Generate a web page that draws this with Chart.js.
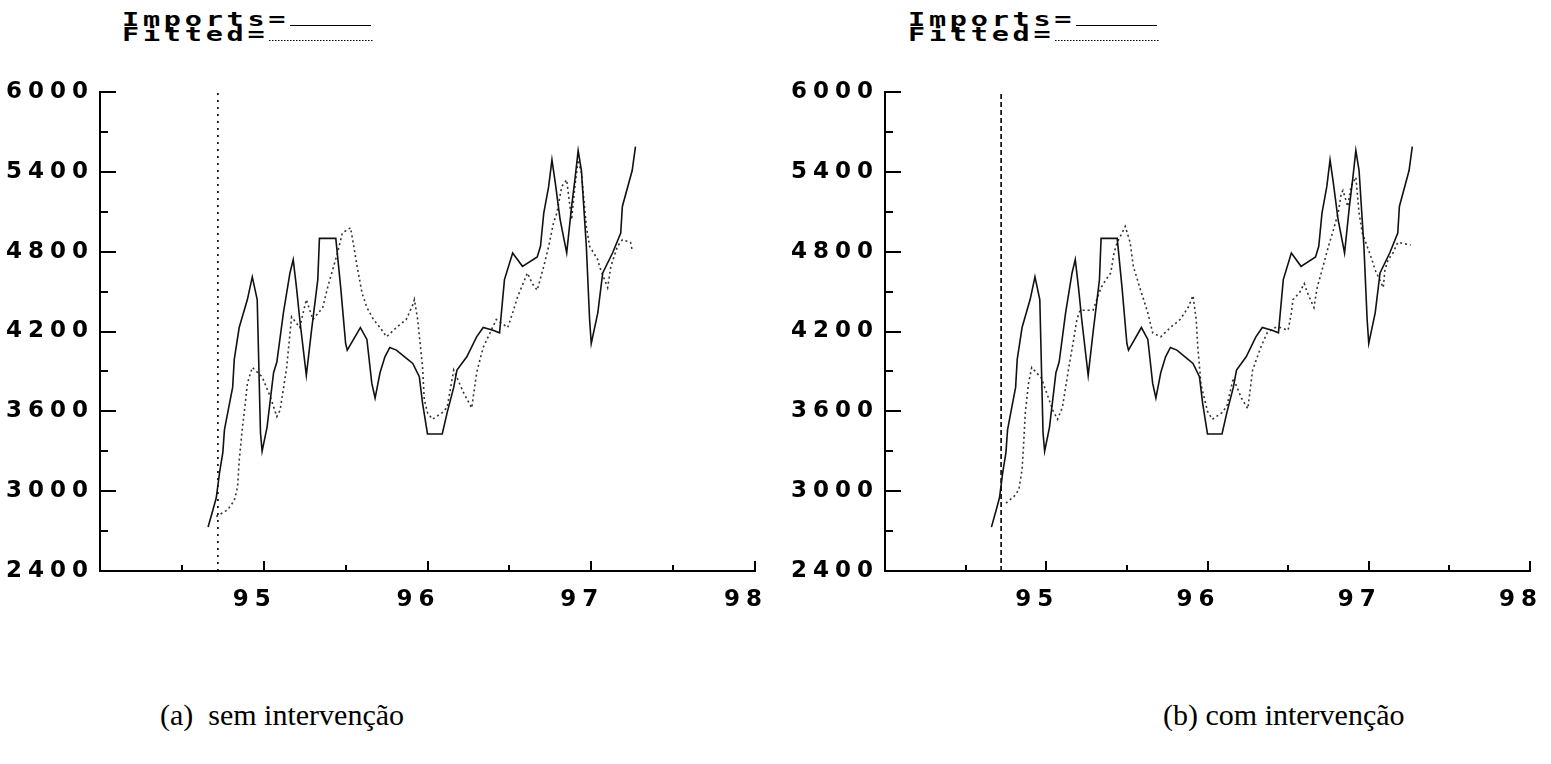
<!DOCTYPE html>
<html>
<head>
<meta charset="utf-8">
<script src="https://cdn.jsdelivr.net/npm/chart.js@4/dist/chart.umd.min.js"></script>
<style>
  body { margin: 0; background: #fff; width: 1551px; height: 764px; position: relative; overflow: hidden; }
  canvas { position: absolute; top: 60px; }
  .legend { position: absolute; top: 12px; font-family: "DejaVu Sans Mono", monospace; font-weight: bold; font-size: 19px; line-height: 15px; letter-spacing: 2.5px; color: #000; white-space: pre; transform: scaleX(1.5); transform-origin: left top; }
  .legend .s { display: inline-block; vertical-align: baseline; height: 0; letter-spacing: 0; }
  .caption { position: absolute; top: 700px; font-family: "Liberation Serif", "Times New Roman", serif; font-size: 30px; line-height: 30px; white-space: pre; color: #000; }
</style>
</head>
<body>
<div class="legend" style="left:122px">Imports=<span class="s" style="width:54px;border-bottom:1px solid #000"></span>
Fitted=<span class="s" style="width:69px;border-bottom:1px dotted #000"></span></div>
<div class="legend" style="left:908px">Imports=<span class="s" style="width:54px;border-bottom:1px solid #000"></span>
Fitted=<span class="s" style="width:69px;border-bottom:1px dotted #000"></span></div>
<canvas id="chartA" width="775" height="560" style="left:0px"></canvas>
<canvas id="chartB" width="765" height="560" style="left:785px"></canvas>
<div class="caption" style="left:160px">(a)  sem intervenção</div>
<div class="caption" style="left:1163px">(b) com intervenção</div>
<script>
// x in decimal years, y in imports value
const importsYear = [94.66, 94.69, 94.71, 94.73, 94.75, 94.76, 94.78, 94.81, 94.82, 94.85, 94.90, 94.93, 94.96, 94.98, 94.99, 95.02, 95.06, 95.08, 95.12, 95.16, 95.18, 95.20, 95.22, 95.26, 95.29, 95.33, 95.34, 95.44, 95.47, 95.50, 95.51, 95.59, 95.63, 95.66, 95.68, 95.71, 95.74, 95.77, 95.81, 95.87, 95.91, 95.95, 95.97, 96.00, 96.09, 96.12, 96.16, 96.18, 96.24, 96.30, 96.34, 96.40, 96.44, 96.47, 96.52, 96.58, 96.67, 96.69, 96.71, 96.74, 96.76, 96.78, 96.81, 96.85, 96.88, 96.90, 96.92, 96.94, 96.97, 96.99, 97.00, 97.04, 97.07, 97.13, 97.18, 97.19, 97.25, 97.27];
const importsValue = [2730, 2860, 2950, 3140, 3290, 3460, 3590, 3780, 3990, 4230, 4440, 4610, 4440, 3440, 3300, 3480, 3890, 3970, 4340, 4640, 4740, 4530, 4290, 3870, 4190, 4590, 4900, 4900, 4530, 4110, 4060, 4230, 4140, 3810, 3700, 3890, 4010, 4080, 4060, 4000, 3960, 3860, 3660, 3430, 3430, 3590, 3780, 3910, 4010, 4160, 4230, 4210, 4190, 4590, 4790, 4690, 4760, 4840, 5090, 5290, 5490, 5320, 5040, 4790, 5140, 5340, 5560, 5410, 4840, 4290, 4110, 4340, 4640, 4790, 4940, 5140, 5410, 5590];

// (a) fitted without intervention
const fittedYearA = [94.71, 94.78, 94.82, 94.84, 94.85, 94.87, 94.89, 94.90, 94.93, 94.99, 95.04, 95.08, 95.10, 95.14, 95.17, 95.22, 95.26, 95.30, 95.36, 95.39, 95.42, 95.45, 95.48, 95.53, 95.55, 95.57, 95.60, 95.63, 95.67, 95.71, 95.75, 95.81, 95.87, 95.91, 95.92, 95.94, 95.97, 95.98, 96.00, 96.03, 96.09, 96.12, 96.16, 96.22, 96.27, 96.30, 96.34, 96.42, 96.49, 96.52, 96.55, 96.61, 96.64, 96.67, 96.71, 96.74, 96.77, 96.79, 96.82, 96.85, 96.88, 96.90, 96.92, 96.94, 96.97, 96.99, 97.04, 97.05, 97.10, 97.12, 97.16, 97.19, 97.24, 97.25];
const fittedValueA = [2810, 2860, 2930, 3030, 3230, 3480, 3690, 3810, 3930, 3860, 3710, 3560, 3610, 3930, 4310, 4230, 4440, 4290, 4380, 4530, 4660, 4790, 4940, 4980, 4840, 4690, 4490, 4380, 4290, 4230, 4160, 4230, 4290, 4400, 4440, 4290, 3930, 3690, 3590, 3540, 3590, 3630, 3910, 3740, 3625, 3890, 4080, 4290, 4230, 4340, 4460, 4640, 4560, 4510, 4690, 4840, 5020, 5090, 5290, 5340, 5040, 5290, 5490, 5390, 4990, 4840, 4740, 4690, 4530, 4690, 4840, 4890, 4870, 4810];

// (b) fitted with intervention
const fittedYearB = [94.75, 94.80, 94.83, 94.85, 94.86, 94.87, 94.89, 94.91, 94.97, 95.04, 95.07, 95.10, 95.14, 95.17, 95.19, 95.21, 95.29, 95.34, 95.37, 95.40, 95.42, 95.44, 95.47, 95.49, 95.52, 95.54, 95.58, 95.63, 95.66, 95.71, 95.77, 95.83, 95.88, 95.91, 95.93, 95.94, 95.96, 96.00, 96.03, 96.09, 96.12, 96.16, 96.21, 96.25, 96.28, 96.33, 96.37, 96.42, 96.45, 96.50, 96.52, 96.53, 96.57, 96.60, 96.62, 96.66, 96.68, 96.71, 96.75, 96.78, 96.81, 96.83, 96.84, 96.87, 96.89, 96.92, 96.94, 96.96, 96.99, 97.02, 97.04, 97.06, 97.09, 97.10, 97.12, 97.15, 97.18, 97.26];
const fittedValueB = [2910, 2960, 3010, 3160, 3360, 3590, 3810, 3930, 3850, 3610, 3540, 3630, 3930, 4140, 4290, 4360, 4360, 4530, 4590, 4640, 4790, 4870, 4940, 4990, 4870, 4690, 4530, 4340, 4190, 4160, 4230, 4290, 4380, 4470, 4290, 4080, 3800, 3600, 3540, 3590, 3640, 3850, 3700, 3620, 3910, 4080, 4190, 4230, 4230, 4210, 4340, 4440, 4490, 4560, 4490, 4380, 4530, 4660, 4840, 4960, 5090, 5240, 5260, 5140, 5290, 5360, 5090, 4940, 4840, 4740, 4660, 4610, 4530, 4660, 4740, 4790, 4870, 4850];

const breakYear = 94.72;
const yearLabels = [95, 96, 97, 98];
const valueLabels = [2400, 3000, 3600, 4200, 4800, 5400, 6000];

function pts(xs, ys) {
  return xs.map((x, i) => ({x: x, y: ys[i]}));
}

// ticks drawn inward from the axes, like the old plot
const innerTicks = {
  id: 'innerTicks',
  beforeUpdate(chart) { chart.ctx.letterSpacing = '6px'; },
  beforeDraw(chart) { chart.ctx.letterSpacing = '6px'; },
  afterDraw(chart) {
    const ctx = chart.ctx, a = chart.chartArea;
    const xs = chart.scales.x, ys = chart.scales.y;
    ctx.save();
    ctx.strokeStyle = '#000';
    ctx.lineWidth = 2;
    ys.ticks.forEach(t => {
      const py = Math.round(ys.getPixelForValue(t.value));
      const len = valueLabels.includes(t.value) ? 16 : 8;
      ctx.beginPath();
      ctx.moveTo(a.left, py);
      ctx.lineTo(a.left + len, py);
      ctx.stroke();
    });
    xs.ticks.forEach(t => {
      if (t.value === 94) return;
      const px = Math.round(xs.getPixelForValue(t.value));
      const len = Number.isInteger(t.value) ? 10 : 6;
      ctx.beginPath();
      ctx.moveTo(px, a.bottom);
      ctx.lineTo(px, a.bottom - len);
      ctx.stroke();
    });
    ctx.restore();
  }
};

const tickFont = { family: 'DejaVu Sans', size: 23, weight: 'bold' };

function makeChart(id, fitted, dash) {
  return new Chart(document.getElementById(id), {
    type: 'line',
    data: {
      datasets: [
        {
          label: 'Imports',
          data: pts(importsYear, importsValue),
          borderColor: '#111',
          borderWidth: 1.6,
          pointRadius: 0,
          tension: 0
        },
        {
          label: 'Fitted',
          data: fitted,
          borderColor: '#333',
          borderWidth: 1.6,
          borderDash: [2, 3],
          pointRadius: 0,
          tension: 0
        },
        {
          label: 'break',
          data: [{x: breakYear, y: 2400}, {x: breakYear, y: 6000}],
          borderColor: '#000',
          borderWidth: 1.6,
          borderDash: dash,
          pointRadius: 0
        }
      ]
    },
    options: {
      responsive: false,
      animation: false,
      events: [],
      layout: { padding: { top: 32, right: 20, left: 0, bottom: 0 } },
      plugins: { legend: { display: false }, tooltip: { enabled: false } },
      scales: {
        x: {
          type: 'linear',
          min: 94,
          max: 98,
          afterFit: s => { s.height = 49; s.paddingLeft = 0; s.paddingRight = 0; },
          border: { display: true, color: '#000', width: 2 },
          grid: { display: false, drawTicks: false },
          ticks: {
            stepSize: 0.5,
            autoSkip: false,
            maxRotation: 0,
            padding: 15,
            labelOffset: -9,
            color: '#000',
            font: tickFont,
            callback: v => yearLabels.includes(v) ? String(v) : ''
          }
        },
        y: {
          min: 2400,
          max: 6000,
          afterFit: s => { s.width = 100; },
          border: { display: true, color: '#000', width: 2 },
          grid: { display: false, drawTicks: false },
          ticks: {
            stepSize: 300,
            autoSkip: false,
            padding: 6,
            color: '#000',
            font: tickFont,
            callback: v => valueLabels.includes(v) ? String(v) : ''
          }
        }
      }
    },
    plugins: [innerTicks]
  });
}

makeChart('chartA', pts(fittedYearA, fittedValueA), [2, 5]);
makeChart('chartB', pts(fittedYearB, fittedValueB), [5, 3]);
</script>
</body>
</html>
